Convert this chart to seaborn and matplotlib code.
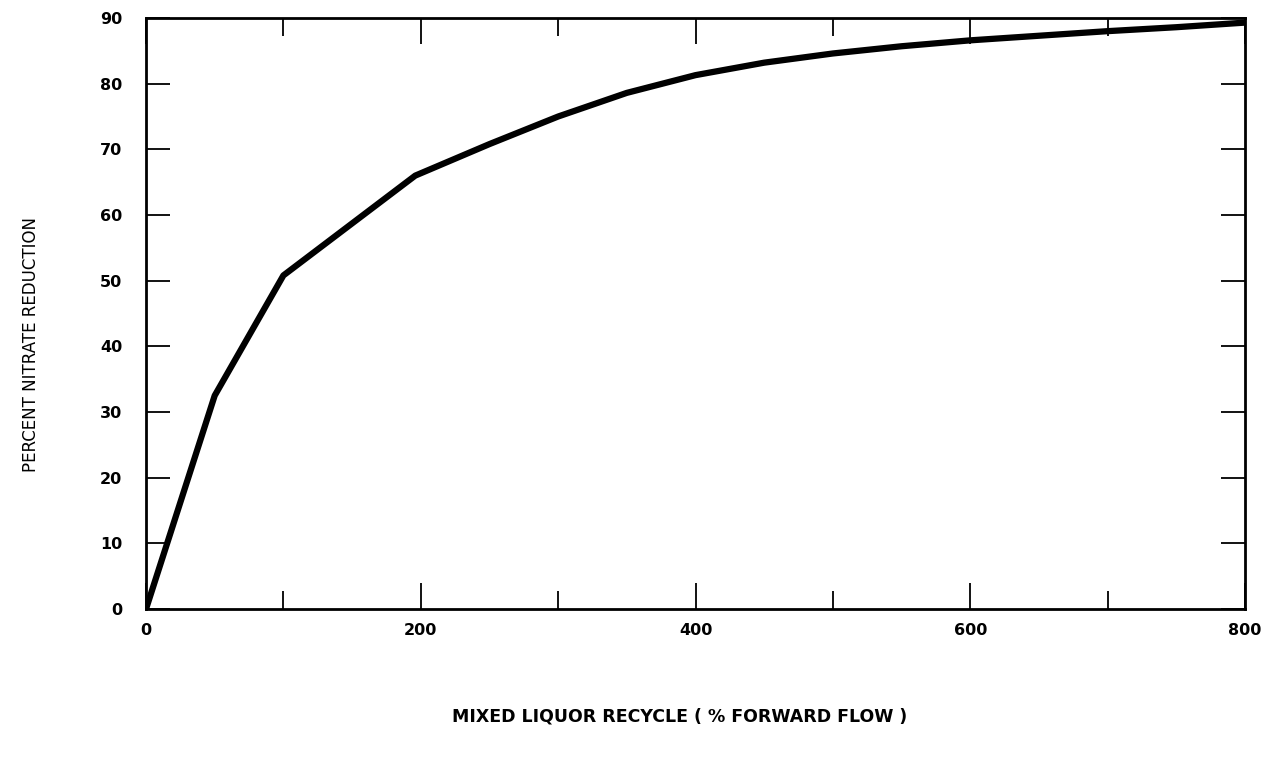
import matplotlib
matplotlib.use("Agg")
import matplotlib.pyplot as plt
import seaborn as sns
import pandas as pd

recycle_pct = [0, 50, 100, 196, 250, 300, 350, 400, 450, 500, 550, 600, 650, 700, 750, 800]
nitrate_red = [0, 32.5, 50.8, 66.0, 70.8, 75.0, 78.6, 81.3, 83.2, 84.6, 85.7, 86.6, 87.3, 88.0, 88.6, 89.3]

x_major_ticks = [0, 200, 400, 600, 800]
x_major_labels = ["0", "200", "400", "600", "800"]
x_minor_ticks = [100, 300, 500, 700]
y_ticks = [0, 10, 20, 30, 40, 50, 60, 70, 80, 90]
y_tick_labels = ["0", "10", "20", "30", "40", "50", "60", "70", "80", "90"]

x_label = "MIXED LIQUOR RECYCLE ( % FORWARD FLOW )"
y_label = "PERCENT NITRATE REDUCTION"

sns.set_style("ticks")
plt.rcParams["font.family"] = ["DejaVu Sans"]
plt.rcParams["text.color"] = "black"
plt.rcParams["xtick.color"] = "black"
plt.rcParams["ytick.color"] = "black"

df = pd.DataFrame({"recycle": recycle_pct, "reduction": nitrate_red})

fig = plt.figure(figsize=(12.73, 7.57), dpi=100)
ax = fig.add_axes([0.1147, 0.1955, 0.978 - 0.1147, 0.9762 - 0.1955])

sns.lineplot(data=df, x="recycle", y="reduction", ax=ax, color="black",
             linewidth=4.5, solid_joinstyle="round", solid_capstyle="butt")

ax.set_xlim(0, 800)
ax.set_ylim(0, 90)
ax.set_xticks(x_major_ticks)
ax.set_xticklabels(x_major_labels, fontsize=11.5, fontweight="bold")
ax.set_xticks(x_minor_ticks, minor=True)
ax.set_yticks(y_ticks)
ax.set_yticklabels(y_tick_labels, fontsize=11.5, fontweight="bold")

ax.tick_params(axis="both", which="both", direction="in", width=1.3, color="black",
               top=True, right=True, labeltop=False, labelright=False,
               labelcolor="black")
ax.tick_params(axis="x", which="major", length=19, pad=10)
ax.tick_params(axis="x", which="minor", length=13)
ax.tick_params(axis="y", which="major", length=17, pad=17)

for s in ax.spines.values():
    s.set_visible(True)
    s.set_linewidth(2.0)
    s.set_color("black")

ax.set_xlabel("")
ax.set_ylabel("")
fig.text(0.534, 0.053, x_label, ha="center", va="center", fontsize=12.5,
         fontweight="bold", color="black")
fig.text(0.024, 0.545, y_label, ha="center", va="center", rotation=90,
         fontsize=12, color="black")

fig.savefig("out.png", dpi=100, facecolor="white")
